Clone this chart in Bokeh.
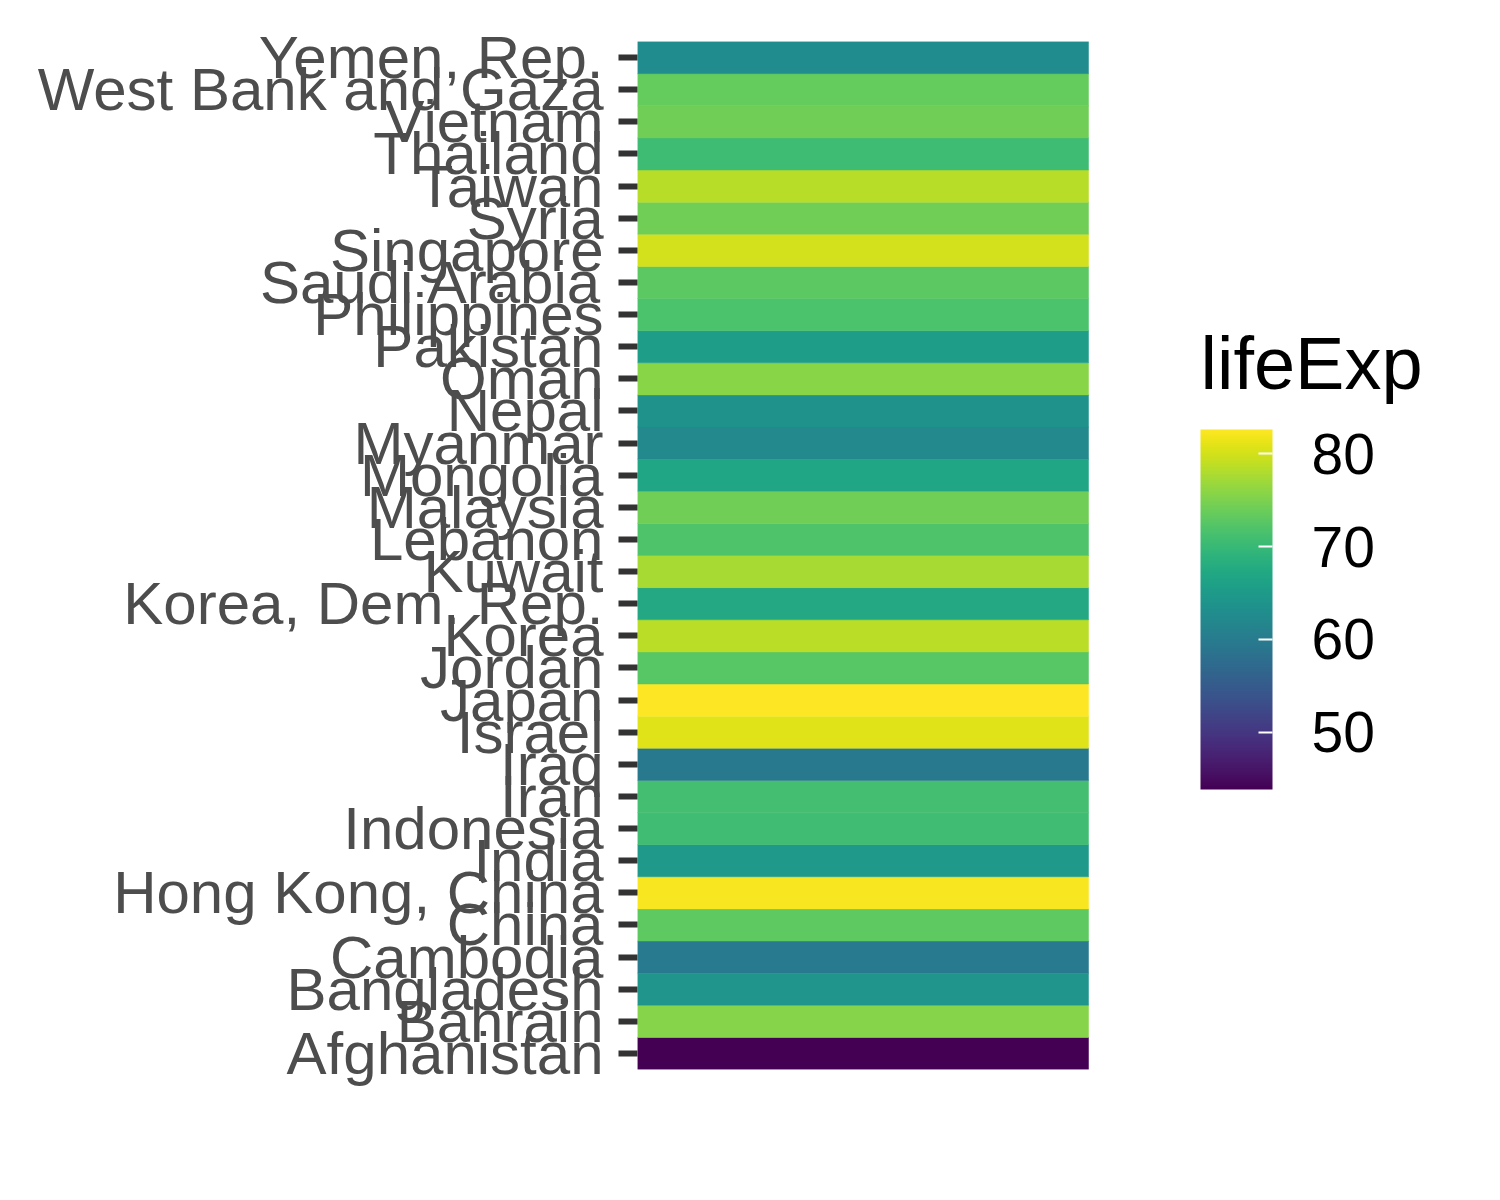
from bokeh.plotting import figure
from bokeh.models import ColumnDataSource, FactorRange, Range1d, ColorBar, LinearColorMapper, FixedTicker, Label
from bokeh.palettes import Viridis256
from bokeh.embed import file_html
from bokeh.resources import INLINE

countries = ["Afghanistan", "Bahrain", "Bangladesh", "Cambodia", "China", "Hong Kong, China",
             "India", "Indonesia", "Iran", "Iraq", "Israel", "Japan", "Jordan", "Korea",
             "Korea, Dem. Rep.", "Kuwait", "Lebanon", "Malaysia", "Mongolia", "Myanmar", "Nepal",
             "Oman", "Pakistan", "Philippines", "Saudi Arabia", "Singapore", "Syria", "Taiwan",
             "Thailand", "Vietnam", "West Bank and Gaza", "Yemen, Rep."]
life_exp = [43.828, 75.635, 64.062, 59.723, 72.961, 82.208,
            64.698, 70.650, 70.964, 59.545, 80.745, 82.603, 72.535, 78.623,
            67.297, 77.588, 71.993, 74.241, 66.803, 62.069, 63.785,
            75.640, 65.483, 71.688, 72.777, 79.972, 74.143, 78.400,
            70.616, 74.249, 73.422, 62.698]
legend_ticks = [50, 60, 70, 80]
legend_title = "lifeExp"

FONT = "Liberation Sans"

mapper = LinearColorMapper(palette=Viridis256, low=min(life_exp), high=max(life_exp))

src = ColumnDataSource(dict(country=countries, life=life_exp,
                            left=[0] * len(countries), right=[1] * len(countries)))

# frame spans from x=637 to the right edge; the tiles occupy the first 451 px (x 0..1)
TILE_PX = 451
FRAME_PX = 1500 - 637
p = figure(width=1500, height=1200, output_backend="svg", toolbar_location=None,
           y_range=FactorRange(factors=countries, range_padding=0),
           x_range=Range1d(0, FRAME_PX / TILE_PX),
           min_border_left=637, min_border_right=0, min_border_top=41, min_border_bottom=131)
p.outline_line_color = None
p.background_fill_color = "white"
p.border_fill_color = "white"
p.grid.visible = False
p.xaxis.visible = False

p.hbar(y="country", left="left", right="right", height=1.0, source=src,
       fill_color={"field": "life", "transform": mapper},
       line_color={"field": "life", "transform": mapper}, line_width=0.5)

ya = p.yaxis[0]
ya.axis_line_color = None
ya.major_tick_line_color = "#333333"
ya.major_tick_line_width = 6
ya.major_tick_out = 19
ya.major_tick_in = 0
ya.minor_tick_line_color = None
ya.major_label_standoff = 15
ya.major_label_text_font = FONT
ya.major_label_text_font_size = "60px"
ya.major_label_text_color = "#4D4D4D"

cb = ColorBar(color_mapper=mapper, width=72, height=360,
              ticker=FixedTicker(ticks=legend_ticks),
              major_label_text_font=FONT, major_label_text_font_size="57px",
              major_label_text_color="black", label_standoff=39,
              major_tick_line_color="white", major_tick_line_width=2,
              major_tick_in=14, major_tick_out=0,
              minor_tick_line_color=None, bar_line_color=None,
              background_fill_color=None, border_line_color=None,
              padding=0, margin=0, location=(563, 280))
p.add_layout(cb, "center")

title = Label(x=563, y=706, x_units="screen", y_units="screen", text=legend_title,
              text_font=FONT, text_font_size="74px", text_color="black",
              text_baseline="alphabetic", text_align="left")
p.add_layout(title, "center")

open("out.html", "w").write(file_html(p, INLINE))
